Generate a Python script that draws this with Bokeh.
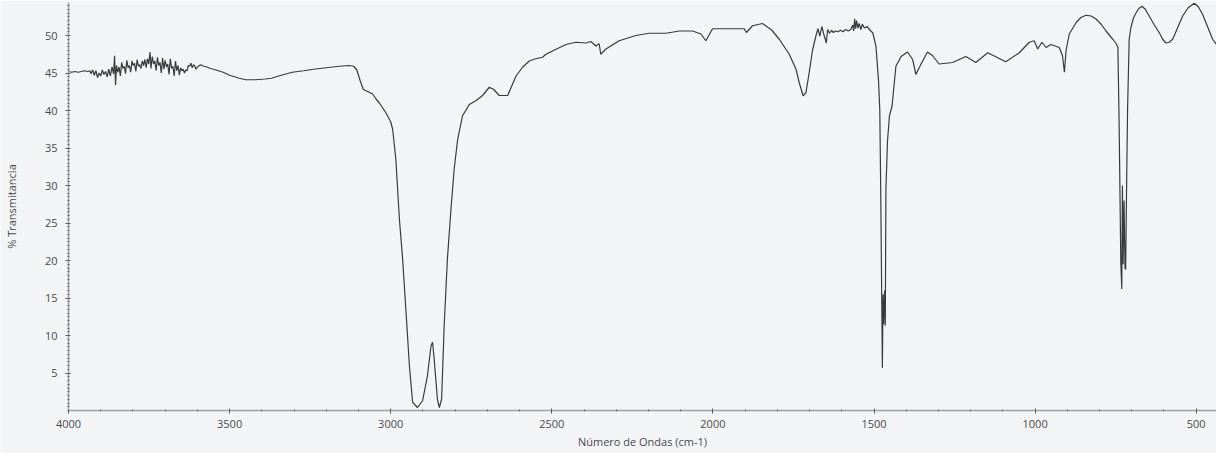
from bokeh.plotting import figure
from bokeh.models import Range1d, FixedTicker
from bokeh.embed import file_html
from bokeh.resources import INLINE

# ---- Data (wavenumber cm-1, % transmittance) ----
# 4000-3550: baseline and noisy region
wn_a = [4000, 3990, 3980, 3970, 3960, 3950, 3940, 3934, 3930, 3925, 3920, 3915, 3910, 3905, 3900,
        3895, 3890, 3885, 3880, 3875, 3870, 3865, 3860, 3857, 3854, 3851, 3847, 3843, 3839, 3835,
        3831, 3827, 3823, 3819, 3815, 3811, 3807, 3803, 3799, 3795, 3791, 3787, 3783, 3779, 3775,
        3771, 3767, 3763, 3759, 3755, 3751, 3747, 3744, 3740, 3736, 3732, 3728, 3724, 3720, 3716,
        3712, 3708, 3704, 3700, 3696, 3692, 3688, 3684, 3680, 3676, 3672, 3668, 3664, 3660, 3656,
        3652, 3648, 3644, 3640, 3636, 3632, 3628, 3624, 3620, 3616, 3612, 3608, 3604, 3600, 3590,
        3580, 3570, 3560, 3550]
tr_a = [45.2, 45.1, 45.2, 45.1, 45.2, 45.3, 45.2, 45.3, 44.9, 45.4, 44.7, 45.3, 44.4, 45.0, 44.6,
        45.4, 44.8, 45.2, 44.5, 45.5, 44.6, 45.8, 44.9, 47.3, 43.4, 46.0, 45.1, 45.8, 44.6, 46.4,
        45.6, 45.9, 44.9, 46.7, 45.7, 46.0, 45.1, 46.6, 46.0, 46.3, 45.2, 46.8, 45.9, 46.1, 45.6,
        46.6, 46.0, 46.8, 45.7, 46.9, 46.2, 47.8, 45.6, 47.2, 46.2, 46.6, 45.3, 47.1, 46.0, 46.4,
        45.0, 47.0, 45.5, 46.7, 45.8, 46.2, 44.8, 46.9, 45.6, 45.9, 44.6, 46.6, 45.3, 46.0, 44.7,
        45.7, 45.3, 45.5, 45.0, 45.4, 45.3, 46.0, 45.9, 46.3, 45.7, 46.1, 45.9, 45.5, 45.8, 46.1,
        45.9, 45.8, 45.6, 45.5]

# 3520-2736: C-H stretching doublet
wn_b = [3520, 3500, 3470, 3450, 3420, 3390, 3370, 3340, 3305, 3270, 3240, 3200, 3160, 3130, 3115,
        3105, 3095, 3085, 3070, 3056, 3045, 3035, 3015, 3000, 2994, 2984, 2973, 2963, 2953, 2942,
        2932, 2917, 2901, 2886, 2875, 2870, 2865, 2855, 2849, 2842, 2834, 2824, 2813, 2803, 2792,
        2777, 2756, 2736]
tr_b = [45.1, 44.7, 44.3, 44.1, 44.1, 44.2, 44.3, 44.7, 45.1, 45.3, 45.5, 45.7, 45.9, 46.0, 45.9,
        45.4, 44.0, 42.8, 42.5, 42.2, 41.5, 41.0, 39.7, 38.5, 37.5, 33.5, 25.5, 20.2, 13.5, 6.0,
        1.1, 0.4, 1.3, 4.6, 8.6, 9.1, 6.8, 1.5, 0.4, 1.5, 11.3, 20.2, 26.8, 32.2, 36.2,
        39.3, 40.8, 41.3]

# 2715-1504: middle region
wn_c = [2715, 2694, 2680, 2663, 2637, 2625, 2611, 2590, 2570, 2550, 2529, 2518, 2490, 2456, 2425,
        2394, 2379, 2363, 2353, 2348, 2332, 2291, 2239, 2198, 2146, 2104, 2063, 2037, 2022, 2001,
        1939, 1903, 1896, 1877, 1846, 1820, 1815, 1794, 1763, 1742, 1732, 1720, 1711, 1701, 1691,
        1680, 1674, 1668, 1662, 1656, 1648, 1644, 1638, 1632, 1626, 1620, 1612, 1604, 1596, 1588,
        1580, 1572, 1566, 1563, 1560, 1557, 1554, 1550, 1546, 1541, 1536, 1530, 1522, 1514, 1508,
        1504]
tr_c = [42.0, 43.1, 42.8, 42.0, 42.0, 43.2, 44.6, 45.8, 46.6, 46.9, 47.1, 47.5, 48.1, 48.8, 49.1,
        49.0, 49.2, 48.6, 48.9, 47.5, 48.2, 49.3, 50.0, 50.3, 50.3, 50.6, 50.6, 50.2, 49.3, 50.9,
        50.9, 50.9, 50.4, 51.3, 51.6, 50.8, 50.6, 49.5, 47.5, 45.5, 43.7, 41.95, 42.4, 45.1, 48.0,
        50.0, 50.9, 49.9, 51.2, 50.2, 49.0, 50.8, 50.3, 50.7, 50.4, 50.6, 50.5, 50.7, 50.5, 50.8,
        50.6, 50.8, 51.4, 50.6, 52.2, 50.9, 52.0, 51.0, 51.6, 50.8, 51.5, 51.0, 51.2, 50.8, 50.5,
        50.4]

# 1494-437: fingerprint region
wn_d = [1494, 1486, 1482, 1479, 1474, 1472, 1470, 1467, 1465, 1463, 1458, 1452, 1444, 1432, 1416,
        1396, 1380, 1370, 1354, 1334, 1318, 1298, 1256, 1215, 1184, 1147, 1091, 1049, 1018, 1003,
        992, 979, 966, 951, 925, 915, 909, 904, 894, 873, 858, 842, 826, 811, 795,
        780, 759, 748, 743, 739, 734, 731, 729, 727, 724, 721, 719, 716, 713, 708,
        703, 695, 687, 678, 668, 658, 646, 630, 615, 604, 594, 584, 573, 558, 542,
        525, 506, 493, 480, 465, 449, 437]
tr_d = [48.6, 44.0, 40.0, 28.7, 5.7, 15.5, 11.5, 16.0, 11.3, 29.5, 36.0, 39.3, 40.6, 45.9, 47.2,
        47.8, 46.8, 44.8, 46.2, 47.8, 47.3, 46.2, 46.4, 47.2, 46.4, 47.7, 46.5, 47.7, 49.1, 49.3,
        48.2, 49.1, 48.4, 48.8, 48.4, 47.3, 45.1, 48.0, 50.2, 51.7, 52.4, 52.7, 52.6, 52.2, 51.5,
        50.6, 49.5, 48.9, 48.4, 37.6, 19.7, 16.2, 30.0, 19.5, 28.0, 19.0, 18.8, 30.0, 40.2, 49.5,
        51.0, 52.3, 53.0, 53.6, 53.9, 53.5, 52.6, 51.4, 50.4, 49.5, 49.0, 49.1, 49.5, 51.0, 52.6,
        53.7, 54.3, 53.8, 52.8, 51.2, 49.5, 48.8]

x_major = [4000, 3500, 3000, 2500, 2000, 1500, 1000, 500]
y_major = [5, 10, 15, 20, 25, 30, 35, 40, 45, 50]
x_label = "Número de Ondas (cm-1)"
y_label = "% Transmitancia"

for a, b in ((wn_a, tr_a), (wn_b, tr_b), (wn_c, tr_c), (wn_d, tr_d)):
    assert len(a) == len(b), (len(a), len(b))

wavenumber = wn_a + wn_b + wn_c + wn_d
transmittance = tr_a + tr_b + tr_c + tr_d

BG = "#f3f4f6"
FONT = "Open Sans"

p = figure(width=1216, height=453, output_backend="svg", toolbar_location=None,
           x_range=Range1d(4000, 437), y_range=Range1d(0, 54.4),
           min_border_left=68, min_border_right=0, min_border_top=2, min_border_bottom=43)
p.background_fill_color = BG
p.border_fill_color = BG
p.outline_line_color = None
p.grid.visible = False

p.line(wavenumber, transmittance, line_color="#3a3a3a", line_width=1.2)

p.xaxis.ticker = FixedTicker(ticks=x_major, minor_ticks=list(range(500, 4001, 100)))
p.yaxis.ticker = FixedTicker(ticks=y_major, minor_ticks=[i * 0.5 for i in range(0, 109)])

for ax in (p.xaxis[0], p.yaxis[0]):
    ax.axis_line_color = "#a0a0a0"
    ax.axis_line_width = 1.5
    ax.major_tick_line_color = "#555555"
    ax.minor_tick_line_color = "#666666"
    ax.major_tick_out = 3
    ax.major_tick_in = 2
    ax.minor_tick_out = 1
    ax.minor_tick_in = 1
    ax.major_label_text_font = FONT
    ax.major_label_text_font_size = "11px"
    ax.major_label_text_color = "#4a4a4a"
    ax.axis_label_text_font = FONT
    ax.axis_label_text_font_size = "11px"
    ax.axis_label_text_font_style = "normal"
    ax.axis_label_text_color = "#4a4a4a"

p.xaxis.axis_label = x_label
p.yaxis.axis_label = y_label
p.xaxis.major_label_standoff = 6
p.xaxis.axis_label_standoff = 3
p.yaxis.major_label_standoff = 8
p.yaxis.axis_label_standoff = 23

open("out.html", "w").write(file_html(p, INLINE))
